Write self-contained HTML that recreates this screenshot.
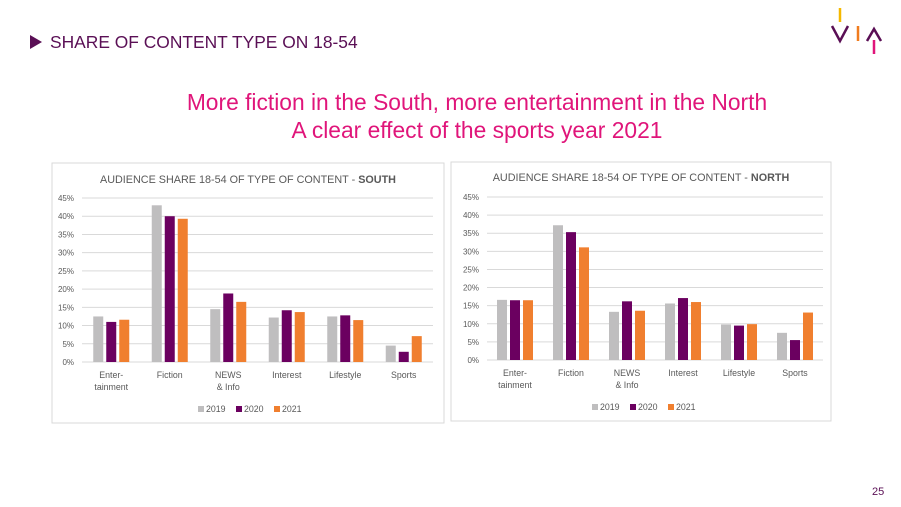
<!DOCTYPE html>
<html><head><meta charset="utf-8"><style>
body{margin:0;width:901px;height:507px;background:#fff;position:relative;overflow:hidden;font-family:"Liberation Sans",sans-serif}
.abs{position:absolute}
</style></head><body>
<div class="abs" style="left:30px;top:35px;width:0;height:0;border-left:12px solid #5a0f55;border-top:7px solid transparent;border-bottom:7px solid transparent"></div>
<div class="abs" style="left:50px;top:32px;font-size:17.4px;color:#5a0f55">SHARE OF CONTENT TYPE ON 18-54</div>
<svg class="abs" style="left:828px;top:6px" width="60" height="52">
<line x1="12" y1="2" x2="12" y2="16" stroke="#f5b800" stroke-width="2.5"/>
<polyline points="4,20 12,35 20,20" fill="none" stroke="#5a0f55" stroke-width="2.5"/>
<line x1="30" y1="20" x2="30" y2="35" stroke="#f07c1e" stroke-width="2.5"/>
<polyline points="39,35 46,23 53,35" fill="none" stroke="#5a0f55" stroke-width="2.5"/>
<line x1="46" y1="34" x2="46" y2="48" stroke="#e0157a" stroke-width="2.5"/>
</svg>
<div class="abs" style="left:0;width:954px;top:88px;text-align:center;font-size:22.8px;line-height:28px;color:#e0157a">More fiction in the South, more entertainment in the North<br>A clear effect of the sports year 2021</div>
<svg class="abs" id="chart" style="left:0;top:0" width="901" height="507"></svg>
<div class="abs" style="left:872px;top:486px;font-size:11px;color:#5a0f55">25</div>
<script>
const categories=[["Enter-","tainment"],["Fiction"],["NEWS","& Info"],["Interest"],["Lifestyle"],["Sports"]];
const years=["2019","2020","2021"];
const southValues2019=[12.5,43,14.5,12.2,12.5,4.5];
const southValues2020=[11,40,18.8,14.2,12.8,2.8];
const southValues2021=[11.6,39.3,16.5,13.7,11.5,7.1];
const northValues2019=[16.6,37.2,13.3,15.6,9.8,7.5];
const northValues2020=[16.5,35.3,16.2,17.1,9.5,5.5];
const northValues2021=[16.5,31.1,13.6,16,9.9,13.1];
const yTicks=[0,5,10,15,20,25,30,35,40,45];
const colors=["#bfbebf","#6b0060","#f07f2f"];
const svg=document.getElementById('chart');
const NS="http://www.w3.org/2000/svg";
function mk(tag,attrs,parent){const e=document.createElementNS(NS,tag);for(const k in attrs)e.setAttribute(k,attrs[k]);parent.appendChild(e);return e;}
function draw(cfg,series,region,bold){
  const g=mk('g',{},svg);
  
  
  const box=mk('rect',{x:cfg.bx,y:cfg.by,width:cfg.bw,height:cfg.bh,fill:'#fff',stroke:'#d9d9d9'},g);
  
  
  const t=mk('text',{x:cfg.tx,y:cfg.ty,'text-anchor':'middle','font-size':10.8,fill:'#595959'},g);
  
  
  t.innerHTML='AUDIENCE SHARE 18-54 OF TYPE OF CONTENT - <tspan font-weight="bold">'+bold+'</tspan>';
  const y=v=>cfg.y0-(v/45)*(cfg.y0-cfg.y45);
  yTicks.forEach(v=>{
    const l=mk('line',{x1:cfg.x0,x2:cfg.x1,y1:y(v),y2:y(v),stroke:'#d9d9d9','stroke-width':1},g);
    
    
    const tx=mk('text',{x:cfg.x0-8,y:y(v)+3,'text-anchor':'end','font-size':8,fill:'#595959'},g);
    
    
    tx.textContent=v+'%';
  });
  const cw=(cfg.x1-cfg.x0)/categories.length, bw=cfg.barW, gap=3;
  categories.forEach((c,i)=>{
    const cx=cfg.x0+cw*(i+0.5);
    series.forEach((s,j)=>{
      const bx=cx-(1.5*bw+gap)+j*(bw+gap);
      const r=mk('rect',{x:bx,y:y(s[i]),width:bw,height:y(0)-y(s[i]),fill:colors[j]},g);
      
      
    });
    c.forEach((line,k)=>{
      const tl=mk('text',{x:cx,y:cfg.y0+16+k*12,'text-anchor':'middle','font-size':8.8,fill:'#595959'},g);
      
      
      tl.textContent=line;
    });
  });
  years.forEach((yr,j)=>{
    const lx=cfg.lx+j*38;
    const sw=mk('rect',{x:lx,y:cfg.ly-6,width:6,height:6,fill:colors[j]},g);
    
    
    const lt=mk('text',{x:lx+8,y:cfg.ly,'font-size':8.8,fill:'#595959'},g);
    
    
    lt.textContent=yr;
  });
}
draw({bx:52,by:163,bw:392,bh:260,tx:248,ty:183,x0:82,x1:433,y0:362,y45:198,barW:10,lx:198,ly:412},[southValues2019,southValues2020,southValues2021],'south','SOUTH');
draw({bx:451,by:162,bw:380,bh:259,tx:641,ty:181,x0:487,x1:823,y0:360,y45:197,barW:10,lx:592,ly:410},[northValues2019,northValues2020,northValues2021],'north','NORTH');
</script>
</body></html>
